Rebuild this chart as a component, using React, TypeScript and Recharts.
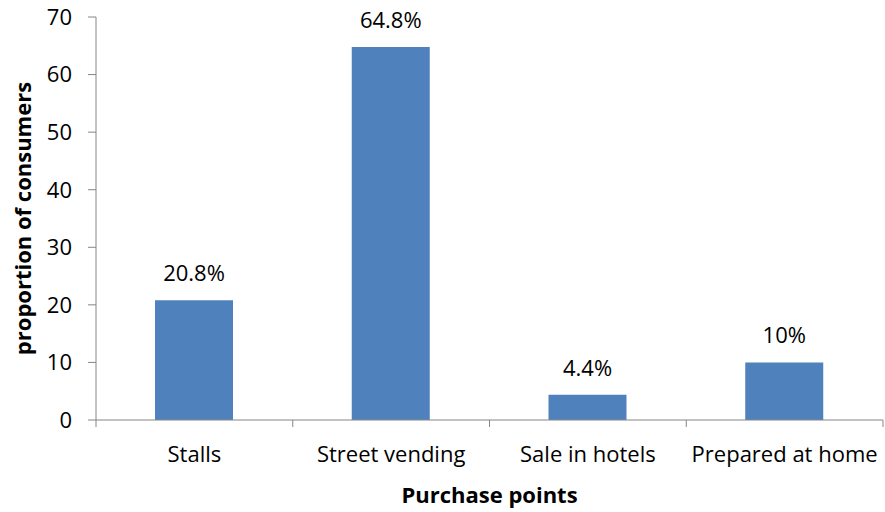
import { BarChart, Bar, XAxis, YAxis, LabelList } from 'recharts';

const categories = ['Stalls', 'Street vending', 'Sale in hotels', 'Prepared at home'];
const proportions = [20.8, 64.8, 4.4, 10];
const yTicks = [0, 10, 20, 30, 40, 50, 60, 70];

const data = categories.map((name, i) => ({ name, value: proportions[i] }));

const FONT = '"Open Sans", Lato, sans-serif';
const FONT_SIZE = 22;
const WIDTH = 885;
const HEIGHT = 512;
const MARGIN = { top: 17, right: 2, bottom: 0, left: 0 };
const Y_AXIS_WIDTH = 96;
const TICK_SIZE = 8;
const AXIS_COLOR = '#868686';
const BAND = (WIDTH - MARGIN.left - MARGIN.right - Y_AXIS_WIDTH) / categories.length;

// category labels, with tick marks on the boundaries between categories
const CategoryTick = (props: any) => {
  const { x, y, payload, index } = props;
  const axisY = y - TICK_SIZE;
  const left = x - BAND / 2;
  const right = x + BAND / 2;
  return (
    <g>
      <line x1={left} y1={axisY} x2={left} y2={axisY + 7} stroke={AXIS_COLOR} />
      {index === categories.length - 1 && (
        <line x1={right} y1={axisY} x2={right} y2={axisY + 7} stroke={AXIS_COLOR} />
      )}
      <text x={x} y={axisY + 42} textAnchor="middle" fill="#000" fontSize={FONT_SIZE} fontFamily={FONT}>
        {payload.value}
      </text>
    </g>
  );
};

export default function App() {
  return (
    <div style={{ position: 'absolute', left: 0, top: 0, background: '#fff' }}>
      <BarChart width={WIDTH} height={HEIGHT} data={data} margin={MARGIN}>
        <XAxis
          dataKey="name"
          height={92}
          tickSize={TICK_SIZE}
          tickMargin={0}
          tickLine={false}
          stroke={AXIS_COLOR}
          tick={<CategoryTick />}
          interval={0}
          label={{
            value: 'Purchase points',
            position: 'insideBottom',
            offset: 9,
            fill: '#000',
            fontSize: FONT_SIZE,
            fontWeight: 700,
            fontFamily: FONT
          }}
        />
        <YAxis
          width={Y_AXIS_WIDTH}
          domain={[0, 70]}
          ticks={yTicks}
          tickSize={TICK_SIZE}
          tickMargin={16}
          stroke={AXIS_COLOR}
          tick={{ fill: '#000', fontSize: FONT_SIZE, fontFamily: FONT }}
          label={{
            value: 'proportion of consumers',
            angle: -90,
            position: 'insideLeft',
            offset: 23,
            textAnchor: 'middle',
            fill: '#000',
            fontSize: FONT_SIZE,
            fontWeight: 700,
            fontFamily: FONT
          }}
        />
        <Bar dataKey="value" fill="#4F81BD" barSize={78} isAnimationActive={false}>
          <LabelList
            dataKey="value"
            position="top"
            offset={19}
            formatter={(v: any) => `${v}%`}
            fill="#000"
            fontSize={FONT_SIZE}
            fontFamily={FONT}
          />
        </Bar>
      </BarChart>
    </div>
  );
}
